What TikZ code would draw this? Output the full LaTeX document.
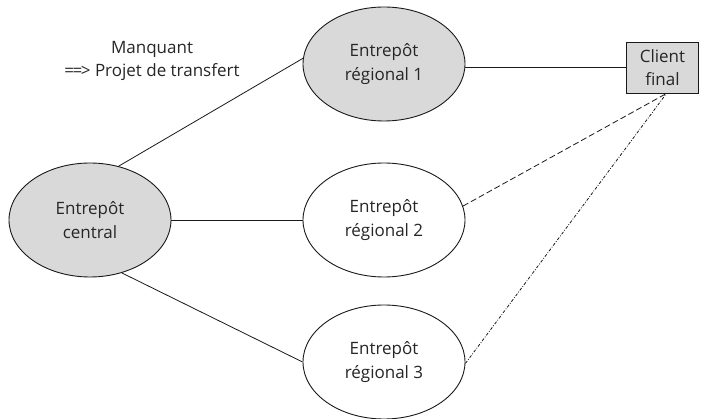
\documentclass[tikz,border=0pt]{standalone}
\usepackage{fontspec}
\setmainfont{Open Sans}
\usetikzlibrary{shapes.geometric}
\begin{document}
\begin{tikzpicture}[x=1pt,y=-1pt,
  every node/.style={font=\fontsize{17}{23.5}\selectfont, text=black!85, align=center},
  depot/.style={ellipse, draw=black!90, line width=0.9pt, minimum width=162pt, minimum height=114pt, inner sep=0pt},
  shaded/.style={depot, fill=black!15},
  plain/.style={depot, fill=white},
  clientbox/.style={draw=black!90, fill=black!15, line width=0.9pt, minimum width=72pt, minimum height=51pt, inner sep=0pt},
  link/.style={draw=black!90, line width=0.8pt},
  dashlink/.style={link, dash pattern=on 6pt off 3pt},
  dotlink/.style={link, dash pattern=on 3pt off 1.6pt on 0.8pt off 1.6pt}]
\useasboundingbox (0,0) rectangle (701,419);

\node[shaded] (central) at (90,220) {Entrepôt\\central};
\node[shaded] (r1) at (384,64) {Entrepôt\\régional 1};
\node[plain] (r2) at (384,220) {Entrepôt\\régional 2};
\node[plain] (r3) at (384,362) {Entrepôt\\régional 3};
\node[clientbox] (client) at (662.5,67.5) {Client\\final};
\node (note) at (152,61) {Manquant\\=\kern-1.5pt=\kern-1.5pt> Projet de transfert};

\draw[link] (central.62) -- (r1.176);
\draw[link] (central.east) -- (r2.west);
\draw[link] (central.-59) -- (r3.west);
\draw[link] (r1.east |- client.west) -- (client.west);
\draw[dashlink] (r2.10) -- ([xshift=4pt]client.south);
\draw[dotlink] (r3.-1) -- ([xshift=4pt]client.south);
\end{tikzpicture}
\end{document}
